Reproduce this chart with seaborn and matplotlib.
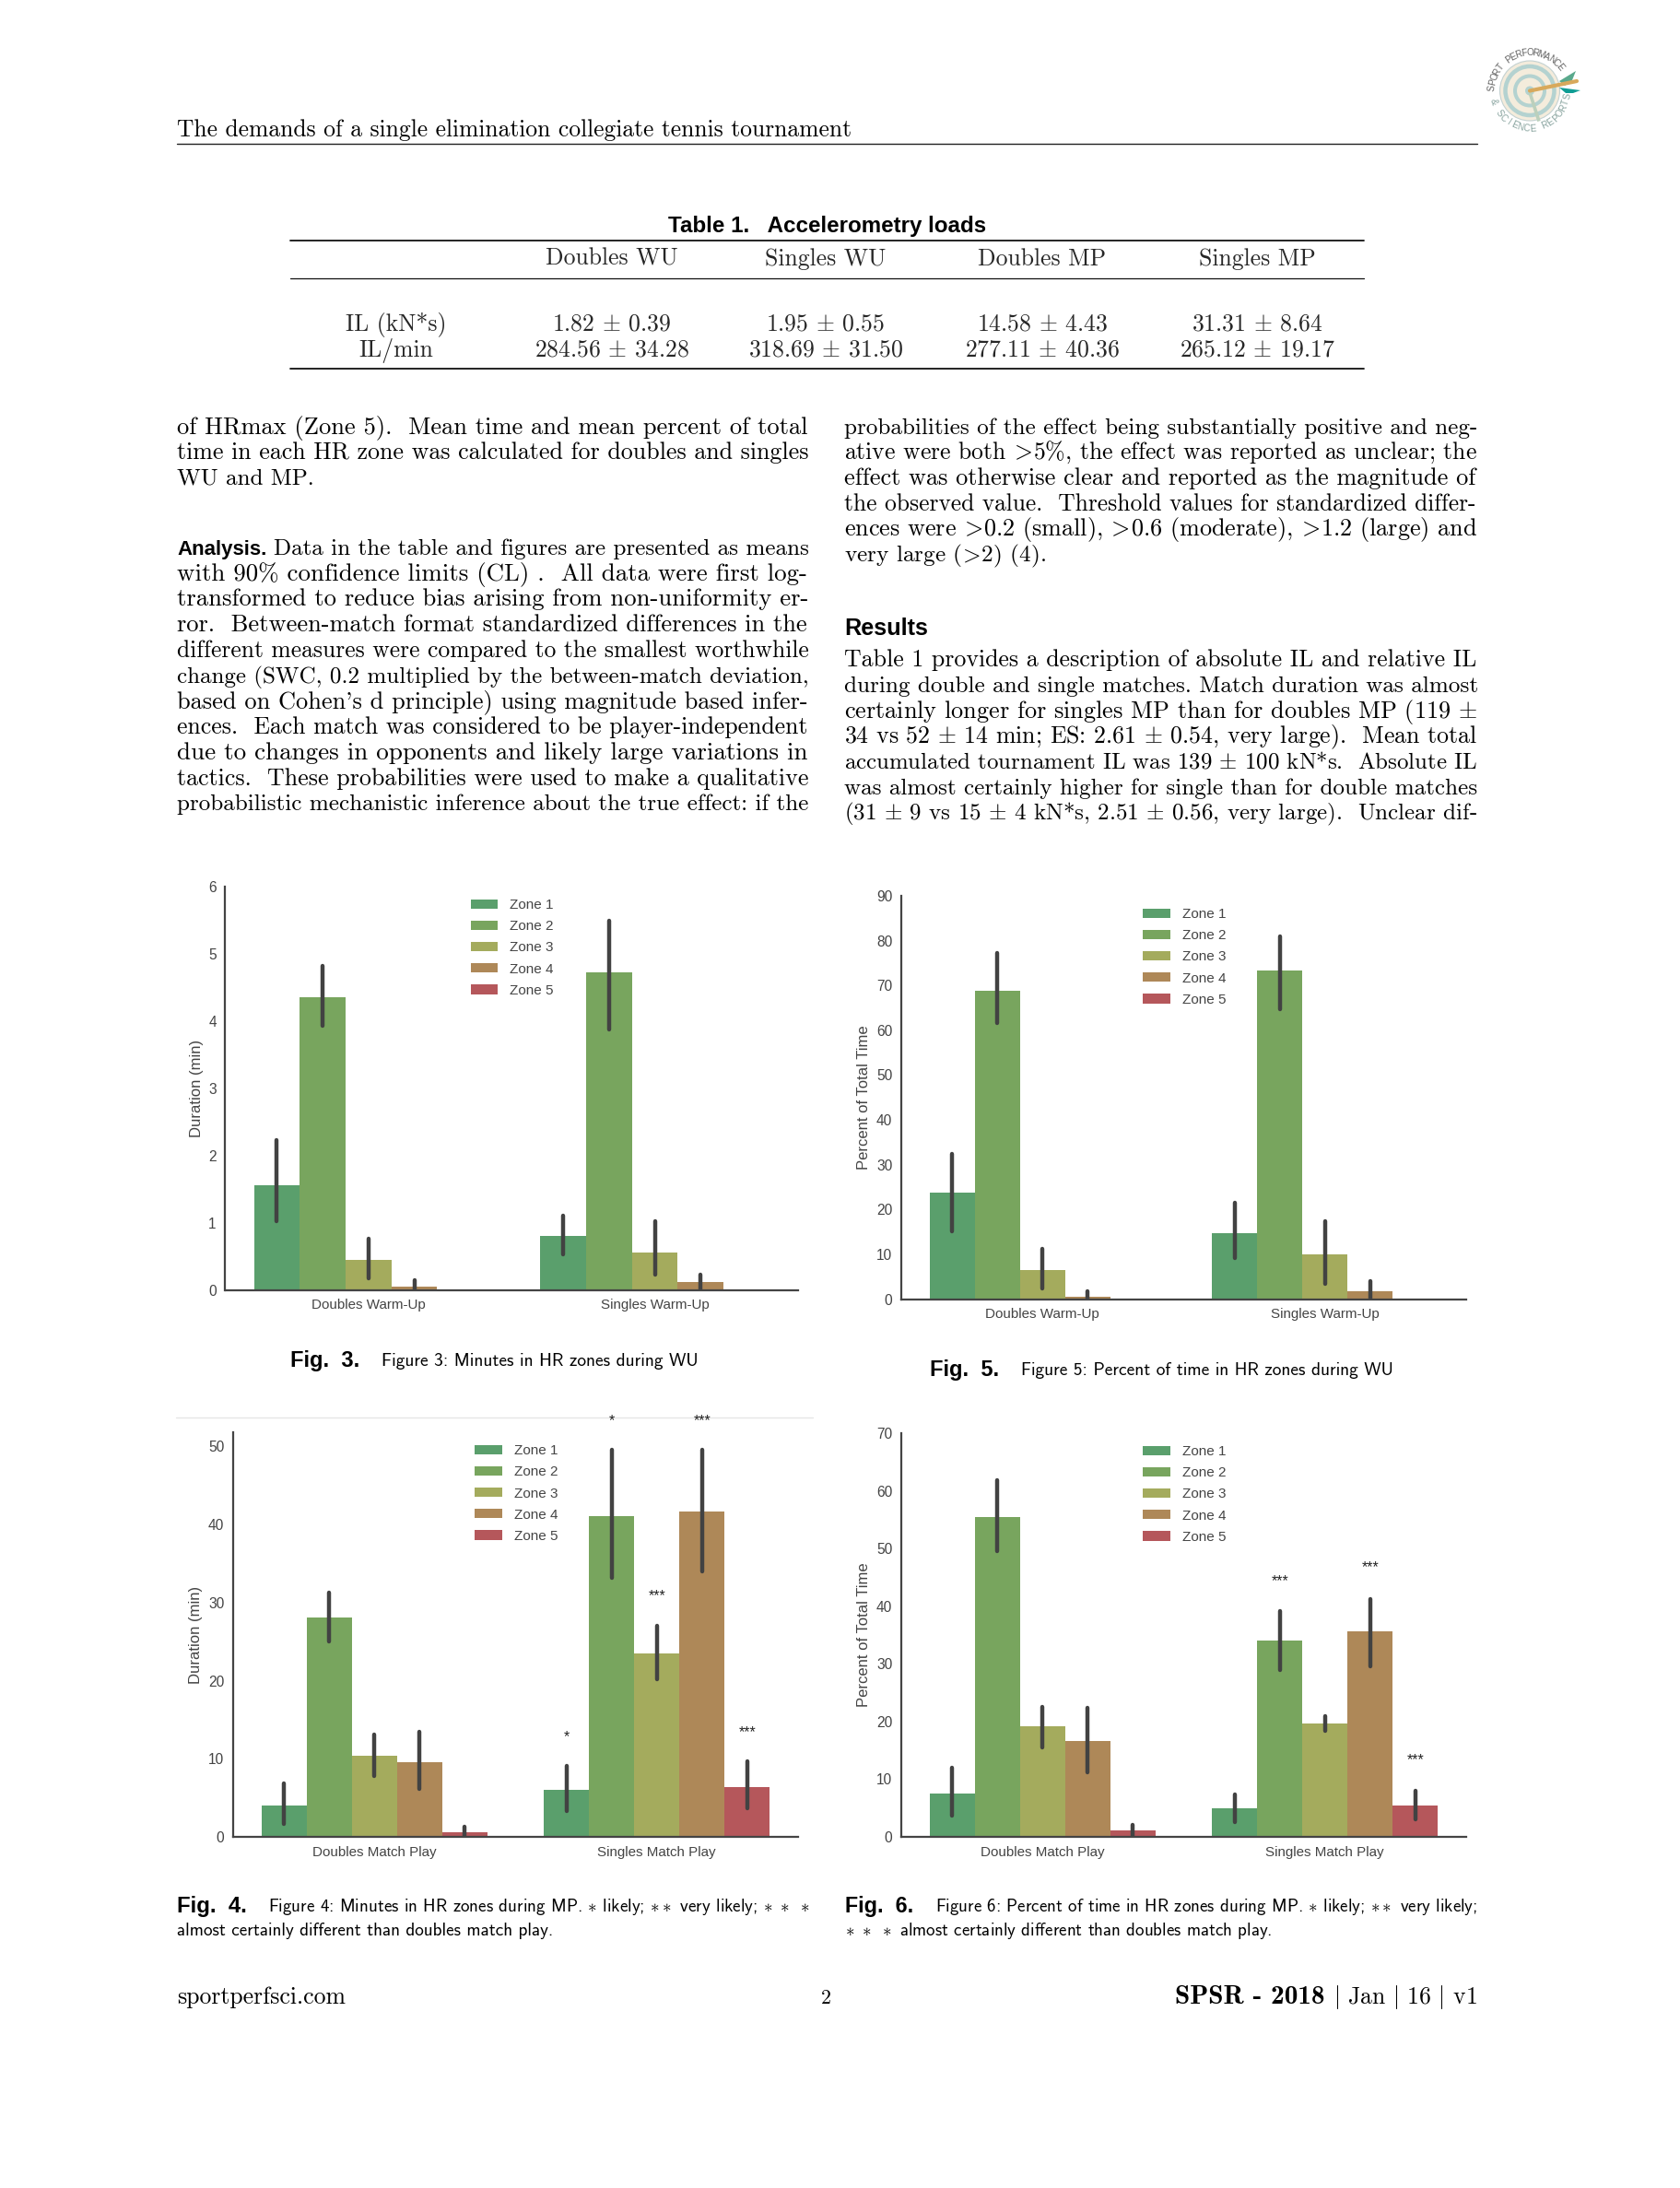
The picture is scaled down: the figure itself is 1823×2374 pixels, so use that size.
import numpy as np
import pandas as pd
import matplotlib
matplotlib.use('Agg')
import matplotlib.pyplot as plt
from matplotlib.patches import Circle, Polygon
import seaborn as sns

W, H = 1824, 2374

zones = ['Zone 1', 'Zone 2', 'Zone 3', 'Zone 4', 'Zone 5']
zone_colors = ['#5a9f6c', '#78a55e', '#a4ab5d', '#ae8858', '#b5575b']
wu_groups = ['Doubles Warm-Up', 'Singles Warm-Up']
mp_groups = ['Doubles Match Play', 'Singles Match Play']

# every list: zone 1-5 doubles, then zone 1-5 singles
fig3_mean = [1.56, 4.35, 0.45, 0.05, 0, 0.80, 4.72, 0.56, 0.11, 0]
fig3_low = [1.02, 3.93, 0.17, 0, 0, 0.53, 3.88, 0.22, 0, 0]
fig3_high = [2.23, 4.82, 0.76, 0.14, 0, 1.11, 5.49, 1.02, 0.23, 0]

fig5_mean = [23.8, 68.9, 6.5, 0.6, 0, 14.7, 73.3, 10.0, 1.75, 0]
fig5_low = [15.2, 61.7, 2.4, 0, 0, 9.1, 64.6, 3.4, 0, 0]
fig5_high = [32.4, 77.3, 11.2, 1.7, 0, 21.5, 80.9, 17.3, 4.1, 0]

fig4_mean = [3.97, 28.1, 10.4, 9.6, 0.63, 6.05, 41.1, 23.5, 41.6, 6.4]
fig4_low = [1.63, 25.0, 7.8, 6.1, 0, 3.25, 33.1, 20.2, 34.0, 3.66]
fig4_high = [6.87, 31.25, 13.1, 13.4, 1.35, 9.03, 49.5, 27.0, 49.5, 9.67]

fig6_mean = [7.46, 55.5, 19.25, 16.6, 1.04, 5.0, 34.1, 19.6, 35.6, 5.4]
fig6_low = [3.6, 49.5, 15.5, 11.25, 0, 2.5, 29.0, 18.3, 29.6, 3.05]
fig6_high = [12.0, 61.9, 22.6, 22.4, 2.0, 7.4, 39.2, 20.9, 41.3, 8.0]

# stars over the singles bars: zone index, height, label
fig4_stars = [(0, 12.83, '*'), (1, 53.25, '*'), (2, 30.85, '***'), (3, 53.2, '***'), (4, 13.4, '***')]
fig6_stars = [(1, 44.4, '***'), (3, 46.7, '***'), (4, 13.4, '***')]

table_cols = ['Doubles WU', 'Singles WU', 'Doubles MP', 'Singles MP']
table_il = ['1.82 $\\pm$ 0.39', '1.95 $\\pm$ 0.55', '14.58 $\\pm$ 4.43', '31.31 $\\pm$ 8.64']
table_ilmin = ['284.56 $\\pm$ 34.28', '318.69 $\\pm$ 31.50', '277.11 $\\pm$ 40.36', '265.12 $\\pm$ 19.17']

para_top = [
    ('of HRmax (Zone 5).  Mean time and mean percent of total', 878),
    ('time in each HR zone was calculated for doubles and singles', 878),
    ('WU and MP.', 341),
]
para_analysis = [
    'with 90% confidence limits (CL) .  All data were first log-',
    'transformed to reduce bias arising from non-uniformity er-',
    'ror.  Between-match format standardized differences in the',
    'different measures were compared to the smallest worthwhile',
    'change (SWC, 0.2 multiplied by the between-match deviation,',
    "based on Cohen's d principle) using magnitude based infer-",
    'ences.  Each match was considered to be player-independent',
    'due to changes in opponents and likely large variations in',
    'tactics.  These probabilities were used to make a qualitative',
    'probabilistic mechanistic inference about the true effect: if the',
]
para_right = [
    ('probabilities of the effect being substantially positive and neg-', 1603),
    ('ative were both $\\!>\\!$5%, the effect was reported as unclear; the', 1603),
    ('effect was otherwise clear and reported as the magnitude of', 1603),
    ('the observed value.  Threshold values for standardized differ-', 1603),
    ('ences were $\\!>\\!$0.2 (small), $\\!>\\!$0.6 (moderate), $\\!>\\!$1.2 (large) and', 1603),
    ('very large ($\\!>\\!$2) (4).', 1135),
]
para_results = [
    'Table 1 provides a description of absolute IL and relative IL',
    'during double and single matches. Match duration was almost',
    'certainly longer for singles MP than for doubles MP (119 $\\pm$',
    '34 vs 52 $\\pm$ 14 min; ES: 2.61 $\\pm$ 0.54, very large).  Mean total',
    'accumulated tournament IL was 139 $\\pm$ 100 kN*s.  Absolute IL',
    'was almost certainly higher for single than for double matches',
    '(31 $\\pm$ 9 vs 15 $\\pm$ 4 kN*s, 2.51 $\\pm$ 0.56, very large).  Unclear dif-',
]

sns.set_style('white')
plt.rcParams['font.family'] = ['Liberation Sans']
plt.rcParams['mathtext.fontset'] = 'cm'

fig = plt.figure(figsize=(W / 100, H / 100), dpi=100, facecolor='white')
page = fig.add_axes([0, 0, 1, 1], zorder=0)
page.set_xlim(0, W)
page.set_ylim(H, 0)
page.axis('off')
renderer = fig.canvas.get_renderer()

DARK = '#444444'
SERIF = 'cmr10'
SANS = 'cmss10'
BOLD = 'Liberation Sans'
TABLE_SIZE = 18.5


def put(x0, x1, y, s, family=SERIF, weight='normal', size=17.2):
    # place a line and scale it so it fills x0..x1, like the justified page
    t = page.text(x0, y, s, family=family, weight=weight, fontsize=size,
                  color='black', ha='left', va='baseline')
    t.set_fontsize(size * (x1 - x0) / t.get_window_extent(renderer).width)
    return t


def draw_panel(box, groups, mean, low, high, ylabel, ymax, yticks, stars=()):
    left, right, top, bottom = box
    ax = fig.add_axes([left / W, 1 - bottom / H, (right - left) / W, (bottom - top) / H], zorder=2)
    ax.patch.set_alpha(0)
    rows = []
    for i in range(10):
        for v in (low[i], mean[i], high[i]):
            rows.append({'group': groups[i // 5], 'zone': zones[i % 5], 'value': v})
    sns.barplot(data=pd.DataFrame(rows), x='group', y='value', hue='zone', hue_order=zones,
                order=groups, palette=zone_colors, saturation=1, ax=ax, estimator='median',
                errorbar=lambda v: (v.min(), v.max()), linewidth=0,
                err_kws={'color': '#424242', 'linewidth': 3.2, 'solid_capstyle': 'round'})
    # zero length intervals would leave a dot on the axis
    for line in list(ax.lines):
        if np.ptp(line.get_ydata()) == 0:
            line.remove()
    ax.set_xlim(-0.5, 1.5)
    ax.set_ylim(0, ymax)
    ax.set_yticks(yticks)
    ax.set_xlabel('')
    ax.set_ylabel(ylabel, fontsize=12, color=DARK, labelpad=4)
    ax.tick_params(axis='x', length=0, labelsize=10.9, labelcolor=DARK, pad=7)
    ax.tick_params(axis='y', length=0, labelsize=11.2, labelcolor=DARK, pad=7)
    sns.despine(ax=ax)
    for side in ('left', 'bottom'):
        ax.spines[side].set_color(DARK)
        ax.spines[side].set_linewidth(1.6)
    ax.legend(loc='upper left', bbox_to_anchor=(0.428, 0.97), frameon=False, borderaxespad=0,
              borderpad=0, fontsize=11, handlelength=1.95, handleheight=0.66,
              handletextpad=0.85, labelspacing=0.6, labelcolor=DARK)
    for zone, y, label in stars:
        bar = ax.containers[zone][1]
        ax.text(bar.get_x() + bar.get_width() / 2, y, label, ha='center', va='center',
                fontsize=11.4, color='#222222', clip_on=False)
    return ax


draw_panel((244.5, 866, 962, 1399.5), wu_groups, fig3_mean, fig3_low, fig3_high,
           'Duration (min)', 6, range(0, 7))
draw_panel((978, 1591, 972, 1409.5), wu_groups, fig5_mean, fig5_low, fig5_high,
           'Percent of Total Time', 90, range(0, 100, 10))
draw_panel((253, 866, 1554, 1993), mp_groups, fig4_mean, fig4_low, fig4_high,
           'Duration (min)', 51.8, range(0, 60, 10), fig4_stars)
draw_panel((978, 1591, 1555, 1993), mp_groups, fig6_mean, fig6_low, fig6_high,
           'Percent of Total Time', 70, range(0, 80, 10), fig6_stars)

# faint rule left over at the top of figure 4
page.plot([191, 882], [1538, 1538], color='#e6e6e6', lw=1)

# running head
put(192, 924, 148, 'The demands of a single elimination collegiate tennis tournament')
page.plot([192, 1603], [155.5, 155.5], color='#222222', lw=1)

# logo
cx, cy = 1660, 98.5
page.add_patch(Circle((cx, cy), 32.5, fc='#f4ecdc', ec='#c4d2d2', lw=0.8))
for r, ring_w in ((26.5, 4.5), (16, 4.0)):
    page.add_patch(Circle((cx, cy), r, fc='none', ec='#b4d2d0', lw=ring_w / 1.389))
page.add_patch(Circle((cx, cy), 5, fc='#b4d2d0', ec='none'))
page.plot([cx, cx + 10], [cy + 2, cy + 33], color='#bcd0bc', lw=2.6, solid_capstyle='butt')
page.add_patch(Polygon([(1692, 88), (1710, 77), (1706, 87), (1698, 93)], fc='#5aa98c', ec='none'))
page.add_patch(Polygon([(1692, 95), (1715, 98), (1707, 101), (1699, 101)], fc='#0f9d94', ec='none'))
page.plot([cx, 1711], [cy, 88], color='#d8a95c', lw=3, solid_capstyle='round')
for word, a0, a1, col, turn in (('SPORT PERFORMANCE', 176, 38, '#666666', -90),
                                ('& SCIENCE REPORTS', 197, 352, '#8aa5a0', -270)):
    for ch, deg in zip(word, np.linspace(a0, a1, len(word))):
        a = np.radians(deg)
        page.text(cx + 41 * np.cos(a), cy - 41 * np.sin(a), ch, fontsize=7.2, color=col,
                  ha='center', va='center', rotation=deg + turn, rotation_mode='anchor')

# table
put(725, 1070, 252, 'Table 1.   Accelerometry loads', BOLD, 'bold')
for y, lw in ((260.5, 1.3), (301.5, 0.9), (399.5, 1.3)):
    page.plot([315, 1480], [y, y], color='#111111', lw=lw)
col_x = [664, 896, 1131, 1364]
for x, head, il, ilm in zip(col_x, table_cols, table_il, table_ilmin):
    page.text(x, 288, head, family=SERIF, fontsize=TABLE_SIZE, ha='center', va='baseline')
    page.text(x, 358.5, il, family=SERIF, fontsize=TABLE_SIZE, ha='center', va='baseline')
    page.text(x, 386.5, ilm, family=SERIF, fontsize=TABLE_SIZE, ha='center', va='baseline')
page.text(430, 358.5, 'IL (kN*s)', family=SERIF, fontsize=TABLE_SIZE, ha='center', va='baseline')
page.text(430, 386.5, 'IL/min', family=SERIF, fontsize=TABLE_SIZE, ha='center', va='baseline')

# body text
for i, (line, x1) in enumerate(para_top):
    put(192, x1, 470.5 + i * 27.75, line)
put(192, 290, 602, 'Analysis.', BOLD, 'bold')
put(297, 878, 602, 'Data in the table and figures are presented as means')
for i, line in enumerate(para_analysis):
    put(192, 878, 629.75 + i * 27.75, line)
for i, (line, x1) in enumerate(para_right):
    put(916, x1, 470.5 + i * 27.75, line)
put(916, 1007, 689, 'Results', BOLD, 'bold')
for i, line in enumerate(para_results):
    put(916, 1603, 723 + i * 27.75, line)

# captions
put(315, 390, 1483, 'Fig.  3.', BOLD, 'bold')
put(414, 759, 1482, 'Figure 3: Minutes in HR zones during WU', SANS)
put(1009, 1084, 1493, 'Fig.  5.', BOLD, 'bold')
put(1108, 1514, 1492, 'Figure 5: Percent of time in HR zones during WU', SANS)
put(192, 268, 2075.5, 'Fig.  4.', BOLD, 'bold')
put(291, 878, 2074.5, 'Figure 4: Minutes in HR zones during MP. $*$ likely; $**$ very likely; $*\\ *\\ *$', SANS)
put(192, 603, 2099.5, 'almost certainly different than doubles match play.', SANS)
put(917, 991, 2075.5, 'Fig.  6.', BOLD, 'bold')
put(1015, 1603, 2074.5, 'Figure 6: Percent of time in HR zones during MP. $*$ likely; $**$ very likely;', SANS)
put(917, 1380, 2099.5, '$*\\ *\\ *$ almost certainly different than doubles match play.', SANS)

# footer
put(192, 375, 2174, 'sportperfsci.com')
put(891, 902, 2174, '2')
put(1275, 1438, 2174, 'SPSR - 2018', 'cmb10', 'normal')
put(1447, 1603, 2174, '$|$ Jan $|$ 16 $|$ v1')

fig.savefig('out.png', dpi=100, facecolor='white')
